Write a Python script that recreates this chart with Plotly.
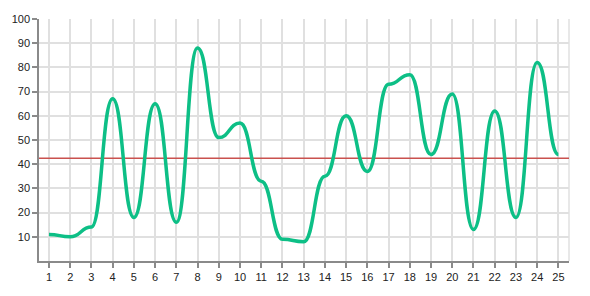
import plotly.graph_objects as go

x_vals = list(range(1, 26))
y_vals = [11, 10, 14, 67, 18, 65, 16, 88, 51, 57, 33, 9, 8, 35, 60, 37, 73, 77, 44, 69, 13, 62, 18, 82, 44]
y_ticks = list(range(10, 101, 10))
avg = sum(y_vals) / len(y_vals)

# smooth "bump" curve: horizontal tangent at every data point (control points at mid x)
path = f"M {x_vals[0]},{y_vals[0]}"
for i in range(1, len(x_vals)):
    x0, y0, x1, y1 = x_vals[i - 1], y_vals[i - 1], x_vals[i], y_vals[i]
    xm = (x0 + x1) / 2
    path += f" C {xm},{y0} {xm},{y1} {x1},{y1}"

fig = go.Figure()
fig.add_trace(go.Scatter(
    x=x_vals, y=y_vals, mode="markers",
    marker=dict(color="#0DBF86", size=6, opacity=0),
    hoverinfo="x+y", showlegend=False,
))
fig.add_trace(go.Scatter(
    x=[0.53, 25.5], y=[avg, avg], mode="lines",
    line=dict(color="#C9514E", width=1.5),
    hoverinfo="skip", showlegend=False,
))

fig.update_layout(
    width=590, height=296,
    margin=dict(l=35, r=21, t=19, b=35),
    paper_bgcolor="white", plot_bgcolor="white",
    font=dict(family="Liberation Sans, Arial, sans-serif", size=11, color="#222"),
    xaxis=dict(
        range=[0.53, 25.5], tickvals=x_vals, ticktext=[str(v) for v in x_vals],
        showgrid=True, gridcolor="#E0E0E0", gridwidth=1.5,
        showline=True, linecolor="#8A8A8A", linewidth=1.5,
        ticks="outside", ticklen=5, tickcolor="#8A8A8A", tickwidth=1.5,
        zeroline=False, fixedrange=True,
    ),
    yaxis=dict(
        range=[0, 100], tickvals=y_ticks, ticktext=[str(v) for v in y_ticks],
        showgrid=True, gridcolor="#E0E0E0", gridwidth=1.5,
        showline=True, linecolor="#8A8A8A", linewidth=1.5,
        ticks="outside", ticklen=5, tickcolor="#8A8A8A", tickwidth=1.5,
        zeroline=False, fixedrange=True,
    ),
    shapes=[
        dict(type="line", xref="paper", yref="paper", x0=1, x1=1, y0=0, y1=1,
             line=dict(color="#E0E0E0", width=1.5), layer="below"),
        dict(type="path", xref="x", yref="y", path=path,
             line=dict(color="#0DBF86", width=3.5), layer="above"),
    ],
)

fig.write_html("out.html")
